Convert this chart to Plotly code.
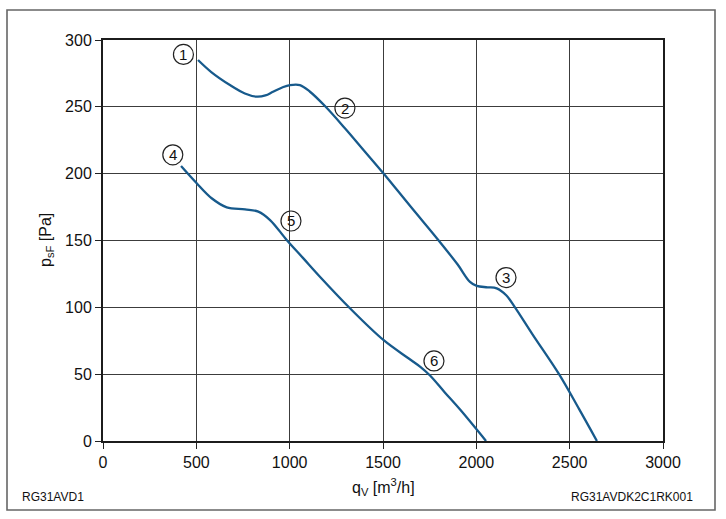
import plotly.graph_objects as go

# Curve 1 (upper characteristic)
q_upper = [509, 580, 680, 760, 823, 870, 911, 960, 1002, 1055, 1109, 1189, 1296, 1400, 1502,
           1650, 1796, 1900, 1966, 2002, 2060, 2109, 2160, 2207, 2300, 2443, 2550, 2646]
p_upper = [285, 276, 266.3, 260, 257.6, 258.5, 261.3, 264.5, 266.3, 266.3, 261.3, 250.6, 234, 217, 200.3,
           175, 150.4, 132, 119, 116, 115, 114.2, 109, 100, 80, 50, 24, 0]

# Curve 2 (lower characteristic)
q_lower = [418, 502, 582, 663, 761, 832, 895, 984, 1071, 1162, 1323, 1502, 1636, 1700,
           1752, 1830, 1913, 2052]
p_lower = [205.7, 192.8, 181.6, 174.8, 173.3, 171.6, 165.3, 150.4, 137, 122.9, 99.3, 75.6, 61.9, 55.5,
           49, 36.5, 23.5, 0]

# Circled point labels
label_text = ["1", "2", "3", "4", "5", "6"]
label_q = [431, 1296, 2159, 374, 1007, 1773]
label_p = [289.2, 249.1, 122.3, 214.1, 164.6, 59.9]

x_ticks = [0, 500, 1000, 1500, 2000, 2500, 3000]
y_ticks = [0, 50, 100, 150, 200, 250, 300]

FONT = "Liberation Sans, Arial, sans-serif"
LINE_COLOR = "#175a8c"

fig = go.Figure()
for qs, ps in [(q_upper, p_upper), (q_lower, p_lower)]:
    fig.add_trace(go.Scatter(x=qs, y=ps, mode="lines",
                             line=dict(color=LINE_COLOR, width=2.3, shape="spline", smoothing=1.0),
                             showlegend=False, hoverinfo="skip"))

shapes = []
annotations = []
for t, q, p in zip(label_text, label_q, label_p):
    shapes.append(dict(type="circle", xref="x", yref="y", xsizemode="pixel", ysizemode="pixel",
                       xanchor=q, yanchor=p, x0=-10, x1=10, y0=-10, y1=10,
                       line=dict(color="#222", width=1.2), fillcolor="rgba(255,255,255,0)"))
    annotations.append(dict(x=q, y=p, xref="x", yref="y", text=t, showarrow=False,
                            font=dict(family=FONT, size=15, color="#111"),
                            xanchor="center", yanchor="middle"))

# outer frame
shapes.append(dict(type="rect", xref="paper", yref="paper",
                   x0=(7 - 103) / 560, x1=(715 - 103) / 560,
                   y0=(441 - 510) / 401, y1=(441 - 10) / 401,
                   line=dict(color="#666", width=1.6), layer="below"))

annotations += [
    dict(xref="paper", yref="paper", x=0.5, y=-(487 - 441) / 401, text="q<sub>V</sub> [m<sup>3</sup>/h]",
         showarrow=False, font=dict(family=FONT, size=16, color="#111"), xanchor="center", yanchor="middle"),
    dict(xref="paper", yref="paper", x=(46 - 103) / 560, y=(441 - 240) / 401, text="p<sub>sF</sub> [Pa]",
         textangle=-90, showarrow=False, font=dict(family=FONT, size=16, color="#111"),
         xanchor="center", yanchor="middle"),
    dict(xref="paper", yref="paper", x=(20 - 103) / 560, y=-(497 - 441) / 401, text="RG31AVD1",
         showarrow=False, font=dict(family=FONT, size=12, color="#111"), xanchor="left", yanchor="middle"),
    dict(xref="paper", yref="paper", x=(695 - 103) / 560, y=-(497 - 441) / 401, text="RG31AVDK2C1RK001",
         showarrow=False, font=dict(family=FONT, size=12, color="#111"), xanchor="right", yanchor="middle"),
]

axis_common = dict(showgrid=True, gridcolor="#3c3c3c", gridwidth=1, ticks="outside", ticklen=6,
                   tickcolor="#222", tickwidth=1.2, showline=True, linecolor="#1c1c1c", linewidth=2,
                   mirror=True, zeroline=False, tickfont=dict(family=FONT, size=16, color="#111"))

fig.update_layout(
    width=726, height=519,
    margin=dict(l=103, r=63, t=40, b=78),
    paper_bgcolor="white", plot_bgcolor="white",
    xaxis=dict(range=[0, 3000], tickvals=x_ticks, **axis_common),
    yaxis=dict(range=[0, 300], tickvals=y_ticks, **axis_common),
    shapes=shapes, annotations=annotations,
)

fig.write_html("out.html")
